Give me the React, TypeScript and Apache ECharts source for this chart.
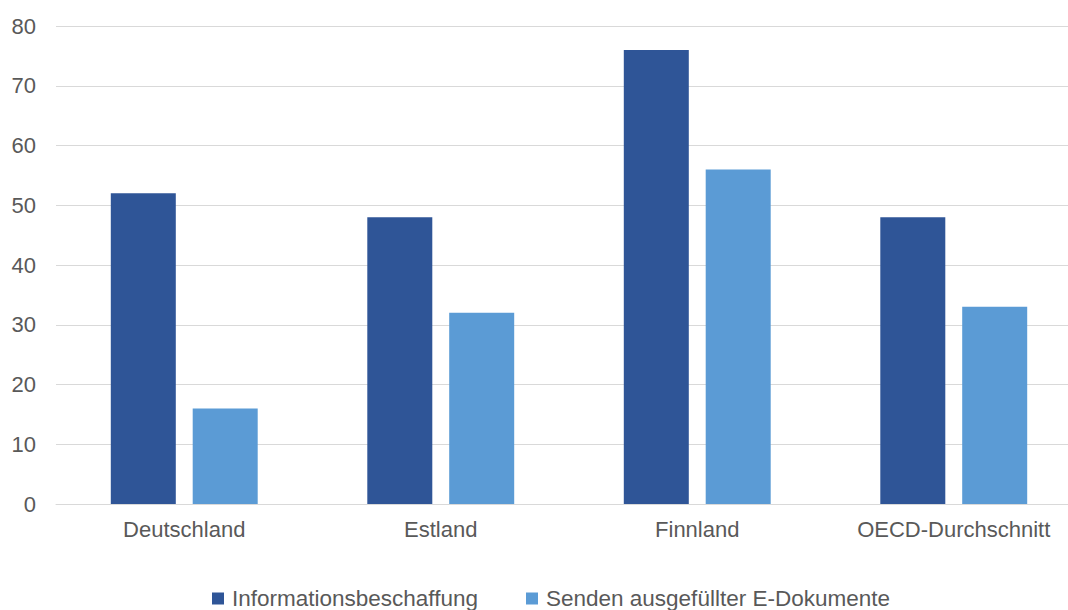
import React, { useEffect, useRef } from "react";
import * as echarts from "echarts";

const categories = ["Deutschland", "Estland", "Finnland", "OECD-Durchschnitt"];
const seriesNames = ["Informationsbeschaffung", "Senden ausgefüllter E-Dokumente"];
const infoValues = [52, 48, 76, 48];
const sendValues = [16, 32, 56, 33];
const colors = ["#2F5597", "#5B9BD5"];

export default function App() {
  const ref = useRef<HTMLDivElement>(null);
  useEffect(() => {
    if (!ref.current) return;
    const chart = echarts.init(ref.current, null, { renderer: "svg" });
    const font = "'Liberation Sans', Arial, sans-serif";
    chart.setOption({
      animation: false,
      textStyle: { fontFamily: font },
      grid: { left: 56, top: 26, right: 0, bottom: 106, containLabel: false },
      legend: {
        left: 207,
        top: 582,
        itemWidth: 12,
        itemHeight: 12,
        itemGap: 48,
        icon: "rect",
        textStyle: { fontSize: 22.5, color: "#595959", fontFamily: font, padding: [0, 0, 0, 3] },
        data: seriesNames,
      },
      xAxis: {
        type: "category",
        data: categories,
        axisLine: { lineStyle: { color: "#d9d9d9" } },
        axisTick: { show: false },
        axisLabel: { fontSize: 22, color: "#595959", margin: 14, fontFamily: font },
      },
      yAxis: {
        type: "value",
        min: 0,
        max: 80,
        interval: 10,
        axisLine: { show: false },
        axisTick: { show: false },
        splitLine: { lineStyle: { color: "#d9d9d9" } },
        axisLabel: { fontSize: 22, color: "#595959", margin: 20, fontFamily: font },
      },
      series: [
        {
          name: seriesNames[0],
          type: "bar",
          data: infoValues,
          barWidth: 65,
          barGap: "26%",
          itemStyle: { color: colors[0] },
        },
        {
          name: seriesNames[1],
          type: "bar",
          data: sendValues,
          barWidth: 65,
          barGap: "26%",
          itemStyle: { color: colors[1] },
        },
      ],
    });
    return () => chart.dispose();
  }, []);
  return (
    <div
      style={{ position: "absolute", left: 0, top: 0, width: 1068, height: 610, overflow: "hidden", background: "#fff" }}
    >
      <div ref={ref} style={{ width: 1082, height: 610 }} />
    </div>
  );
}
